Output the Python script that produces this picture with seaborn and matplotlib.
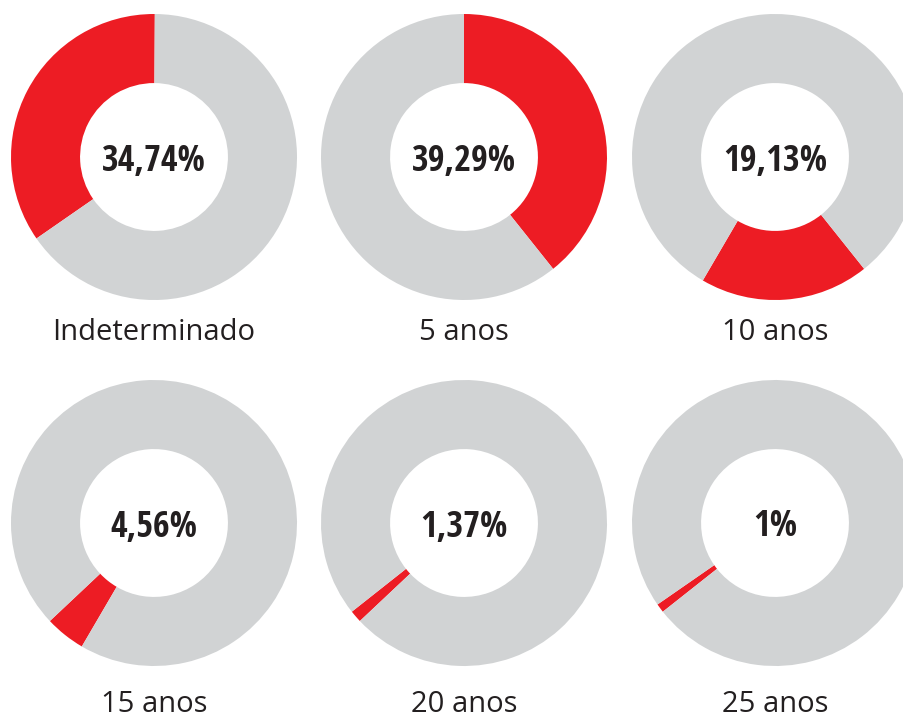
import matplotlib
matplotlib.use("Agg")
import matplotlib.pyplot as plt
import seaborn as sns
from matplotlib import font_manager

# data, in the order the slices follow each other around the ring
labels = ["5 anos", "10 anos", "15 anos", "20 anos", "25 anos", "Indeterminado"]
shares = [39.29, 19.13, 4.56, 1.37, 1.0, 34.74]
shown = ["39,29%", "19,13%", "4,56%", "1,37%", "1%", "34,74%"]
# grid slot (row, col) of each donut
slots = [(0, 1), (0, 2), (1, 0), (1, 1), (1, 2), (0, 0)]

red = "#ED1C24"
grey = "#D1D3D4"
ink = "#231F20"

sns.set_theme(style="white")
names = {f.name for f in font_manager.fontManager.ttflist}
num_font = next(f for f in ["Open Sans Condensed", "Open Sans", "DejaVu Sans"] if f in names)
lab_font = "Open Sans" if "Open Sans" in names else "DejaVu Sans"

fig = plt.figure(figsize=(9.04, 7.14), dpi=100)
W, H = 904, 714
cx = [154, 464, 775]
cy = [157, 523]
base = [340, 712]   # label baselines per row
R = 143

start = 0.0
for lab, val, txt, (r, c) in zip(labels, shares, shown, slots):
    x0, y0 = cx[c], cy[r]
    ax = fig.add_axes([(x0 - R) / W, 1 - (y0 + R) / H, 2 * R / W, 2 * R / H])
    # clockwise from 12 o'clock, each slice picks up where the last ended
    ang = 90 - start * 3.6
    ax.pie([val, 100 - val], colors=[red, grey], startangle=ang, counterclock=False,
           radius=1, wedgeprops=dict(width=0.483, linewidth=0))
    start += val
    ax.set_xlim(-1, 1)
    ax.set_ylim(-1, 1)
    ax.set_aspect("equal")
    ax.axis("off")
    ax.text(0, 0, txt, ha="center", va="center_baseline", fontsize=26, fontweight="bold",
            family=num_font, color=ink)
    fig.text(x0 / W, 1 - base[r] / H, lab, ha="center", va="baseline",
             fontsize=21, family=lab_font, color=ink)

fig.savefig("out.png", dpi=100)
